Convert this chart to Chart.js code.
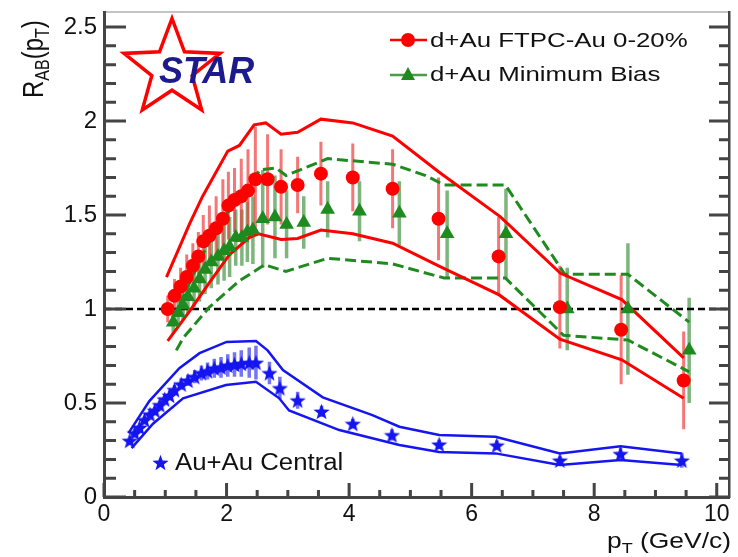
<!DOCTYPE html>
<html>
<head>
<meta charset="utf-8">
<script src="https://cdn.jsdelivr.net/npm/chart.js@4.4.1/dist/chart.umd.min.js"></script>
<style>
  html, body { margin: 0; padding: 0; background: #fff; }
</style>
</head>
<body>
<canvas id="rab" width="738" height="557"></canvas>
<script>
// d+Au FTPC-Au 0-20%
const ftpcPt  = [1.04, 1.15, 1.25, 1.35, 1.45, 1.54, 1.62, 1.72, 1.83, 1.94, 2.03, 2.13, 2.24, 2.35, 2.47, 2.67, 2.89, 3.16, 3.54, 4.06, 4.71, 5.46, 6.44, 7.44, 8.44, 9.46];
const ftpcR   = [1.00, 1.07, 1.12, 1.17, 1.23, 1.28, 1.36, 1.39, 1.43, 1.48, 1.55, 1.58, 1.60, 1.63, 1.69, 1.69, 1.65, 1.66, 1.72, 1.70, 1.64, 1.48, 1.28, 1.01, 0.89, 0.62];
const ftpcErr = [0.07, 0.09, 0.10, 0.12, 0.12, 0.13, 0.14, 0.16, 0.17, 0.21, 0.18, 0.17, 0.20, 0.22, 0.28, 0.24, 0.20, 0.15, 0.17, 0.18, 0.21, 0.22, 0.21, 0.22, 0.29, 0.26];
const ftpcHiPt = [1.02, 1.40, 1.61, 2.02, 2.21, 2.45, 2.64, 2.89, 3.16, 3.54, 4.06, 4.71, 5.46, 6.47, 7.45, 8.45, 9.46];
const ftpcHi   = [1.17, 1.455, 1.60, 1.84, 1.87, 1.98, 1.99, 1.93, 1.94, 2.01, 1.99, 1.92, 1.73, 1.49, 1.19, 1.05, 0.74];
const ftpcLoPt = [1.04, 1.40, 1.72, 2.05, 2.37, 2.52, 2.89, 3.16, 3.54, 4.06, 4.71, 5.46, 6.45, 7.44, 8.45, 9.46];
const ftpcLo   = [0.83, 0.99, 1.14, 1.29, 1.38, 1.40, 1.37, 1.375, 1.42, 1.40, 1.35, 1.23, 1.075, 0.84, 0.73, 0.525];

// d+Au minimum bias
const mbPt  = [1.13, 1.21, 1.29, 1.37, 1.47, 1.56, 1.65, 1.75, 1.86, 1.96, 2.05, 2.15, 2.25, 2.34, 2.43, 2.59, 2.79, 2.98, 3.26, 3.65, 4.17, 4.82, 5.60, 6.56, 7.56, 8.55, 9.55];
const mbR   = [0.93, 0.98, 1.02, 1.065, 1.11, 1.16, 1.21, 1.25, 1.28, 1.31, 1.33, 1.38, 1.38, 1.41, 1.42, 1.48, 1.49, 1.45, 1.46, 1.53, 1.52, 1.51, 1.40, 1.40, 1.00, 1.00, 0.78];
const mbErr = [0.06, 0.07, 0.08, 0.09, 0.10, 0.12, 0.13, 0.14, 0.15, 0.16, 0.16, 0.15, 0.15, 0.16, 0.18, 0.26, 0.22, 0.18, 0.14, 0.15, 0.16, 0.17, 0.23, 0.24, 0.22, 0.35, 0.28];
const mbHiPt = [1.13, 1.40, 1.67, 2.05, 2.37, 2.54, 2.81, 2.97, 3.65, 4.71, 5.25, 5.55, 6.55, 7.52, 8.55, 9.55];
const mbHi   = [0.95, 1.14, 1.33, 1.53, 1.65, 1.74, 1.75, 1.71, 1.80, 1.77, 1.71, 1.66, 1.66, 1.185, 1.185, 0.93];
const mbLoPt = [1.18, 1.29, 1.72, 2.21, 2.62, 2.97, 3.65, 4.71, 5.55, 6.55, 7.50, 8.55, 9.55];
const mbLo   = [0.78, 0.845, 1.01, 1.15, 1.235, 1.20, 1.27, 1.24, 1.165, 1.165, 0.86, 0.835, 0.666];

// Au+Au central
const aaPt  = [0.42, 0.50, 0.58, 0.66, 0.75, 0.83, 0.91, 0.99, 1.07, 1.15, 1.26, 1.37, 1.48, 1.59, 1.69, 1.80, 1.91, 2.02, 2.13, 2.24, 2.37, 2.48, 2.70, 2.87, 3.16, 3.55, 4.06, 4.70, 5.47, 6.41, 7.44, 8.43, 9.43];
const aaR   = [0.30, 0.34, 0.37, 0.41, 0.44, 0.46, 0.49, 0.52, 0.54, 0.57, 0.60, 0.62, 0.64, 0.66, 0.67, 0.685, 0.69, 0.70, 0.705, 0.71, 0.715, 0.715, 0.66, 0.58, 0.515, 0.455, 0.39, 0.33, 0.28, 0.275, 0.195, 0.23, 0.195];
const aaErr = [0.01, 0.01, 0.01, 0.015, 0.015, 0.02, 0.02, 0.02, 0.025, 0.025, 0.03, 0.03, 0.035, 0.04, 0.045, 0.05, 0.055, 0.06, 0.065, 0.07, 0.08, 0.09, 0.06, 0.06, 0.045, 0.03, 0.025, 0.03, 0.025, 0.025, 0.02, 0.03, 0.04];
const aaHiPt = [0.40, 0.74, 1.23, 1.56, 2.00, 2.48, 2.67, 2.92, 3.57, 4.38, 4.82, 5.47, 6.39, 7.44, 8.43, 9.43];
const aaHi   = [0.34, 0.51, 0.685, 0.765, 0.825, 0.83, 0.78, 0.675, 0.53, 0.436, 0.374, 0.33, 0.32, 0.232, 0.27, 0.232];
const aaLoPt = [0.45, 0.80, 1.29, 1.99, 2.48, 2.86, 3.02, 3.84, 4.82, 5.47, 6.39, 7.44, 8.43, 9.43];
const aaLo   = [0.26, 0.39, 0.525, 0.596, 0.613, 0.525, 0.46, 0.356, 0.277, 0.24, 0.232, 0.17, 0.197, 0.17];

// reference line R = 1
const unityPt = [0, 10.2];
const unityR  = [1, 1];

const X_MAX = 10.2, Y_MAX = 2.58;
const X_STEP = 2, X_MINOR = 0.5, Y_STEP = 0.5, Y_MINOR = 0.1;

const RED = '#ff0000', GREEN = '#1f8a1f', BLUE = '#1515f0', AXIS = '#444444';
const FONT = "'Liberation Sans', Arial, Helvetica, sans-serif";
Chart.defaults.font.family = FONT;

function pts(xs, ys) {
  return xs.map((x, i) => ({ x: x, y: ys[i] }));
}

function starShape(g, cx, cy, R) {
  g.beginPath();
  for (let i = 0; i < 10; i++) {
    const a = -Math.PI / 2 + i * Math.PI / 5;
    const rr = i % 2 ? R * 0.42 : R;
    g.lineTo(cx + rr * Math.cos(a), cy + rr * Math.sin(a));
  }
  g.closePath();
}

function starImage(size, color) {
  const c = document.createElement('canvas');
  c.width = size; c.height = size;
  const g = c.getContext('2d');
  g.fillStyle = color;
  starShape(g, size / 2, size / 2 + 0.8, size / 2);
  g.fill();
  return c;
}
const starImg = starImage(17, BLUE);

function errBars(chart, xs, ys, es, color, w) {
  const sx = chart.scales.x, sy = chart.scales.y, ctx = chart.ctx;
  ctx.save();
  ctx.strokeStyle = color;
  ctx.lineWidth = w;
  ctx.beginPath();
  xs.forEach((x, i) => {
    const px = sx.getPixelForValue(x);
    ctx.moveTo(px, sy.getPixelForValue(ys[i] - es[i]));
    ctx.lineTo(px, sy.getPixelForValue(ys[i] + es[i]));
  });
  ctx.stroke();
  ctx.restore();
}

function wideText(ctx, txt, x, y, k) {
  ctx.save();
  ctx.translate(x, y);
  ctx.scale(k, 1);
  ctx.fillText(txt, 0, 0);
  const w = ctx.measureText(txt).width * k;
  ctx.restore();
  return w;
}

// inward ticks of the ROOT frame, placed through the scales' own tick lists
function innerTicks(chart) {
  const ctx = chart.ctx;
  const sx = chart.scales.x, sy = chart.scales.y;
  const ym = chart.scales.yMinor, xm = chart.scales.xMinor;
  const L = sx.left, R = sx.right, B = sy.bottom;
  ctx.save();
  ctx.strokeStyle = AXIS;
  ctx.lineWidth = 3;
  ctx.lineCap = 'butt';
  ctx.beginPath();
  ym.ticks.forEach(t => {
    const py = sy.getPixelForValue(t.value);
    const major = Math.abs(t.value / Y_STEP - Math.round(t.value / Y_STEP)) < 1e-6;
    const len = major ? 22 : 12;
    ctx.moveTo(L, py); ctx.lineTo(L + len, py);
    ctx.moveTo(R, py); ctx.lineTo(R - len + 2, py);
  });
  xm.ticks.forEach(t => {
    const px = sx.getPixelForValue(t.value);
    const major = Math.abs(t.value / X_STEP - Math.round(t.value / X_STEP)) < 1e-6;
    const len = major ? 14 : 7;
    ctx.moveTo(px, B); ctx.lineTo(px, B - len);
  });
  ctx.stroke();
  ctx.restore();
}

const decor = {
  id: 'decor',
  beforeDatasetsDraw(chart) {
    errBars(chart, aaPt, aaR, aaErr, 'rgba(70,70,240,0.75)', 3.5);
    errBars(chart, mbPt, mbR, mbErr, 'rgba(70,150,70,0.7)', 3.5);
    errBars(chart, ftpcPt, ftpcR, ftpcErr, 'rgba(240,60,60,0.7)', 3);
  },
  afterDraw(chart) {
    const ctx = chart.ctx;
    ctx.save();

    // axis titles
    ctx.fillStyle = '#111';
    ctx.textBaseline = 'alphabetic';
    ctx.textAlign = 'left';
    ctx.save();
    ctx.translate(43, 98);
    ctx.scale(1.23, 1);
    ctx.rotate(-Math.PI / 2);
    let cx = 0;
    ctx.font = '24px ' + FONT; ctx.fillText('R', cx, 0); cx += ctx.measureText('R').width;
    ctx.font = '16px ' + FONT; ctx.fillText('AB', cx, 5); cx += ctx.measureText('AB').width;
    ctx.font = '24px ' + FONT; ctx.fillText('(p', cx, 0); cx += ctx.measureText('(p').width;
    ctx.font = '16px ' + FONT; ctx.fillText('T', cx, 5); cx += ctx.measureText('T').width;
    ctx.font = '24px ' + FONT; ctx.fillText(')', cx, 0);
    ctx.restore();
    let tx = 607;
    ctx.font = '22px ' + FONT; tx += wideText(ctx, 'p', tx, 548, 1.2);
    ctx.font = '15px ' + FONT; tx += wideText(ctx, 'T', tx, 553, 1.2);
    ctx.font = '22px ' + FONT; wideText(ctx, ' (GeV/c)', tx, 548, 1.2);

    // legends
    ctx.lineWidth = 2.5;
    ctx.strokeStyle = RED;
    ctx.beginPath(); ctx.moveTo(390, 40); ctx.lineTo(427, 40); ctx.stroke();
    ctx.fillStyle = RED;
    ctx.beginPath(); ctx.arc(408, 40, 7, 0, Math.PI * 2); ctx.fill();
    ctx.strokeStyle = '#4a9a4a';
    ctx.beginPath(); ctx.moveTo(390, 75); ctx.lineTo(427, 75); ctx.stroke();
    ctx.fillStyle = GREEN;
    ctx.beginPath(); ctx.moveTo(408, 67); ctx.lineTo(415, 80); ctx.lineTo(401, 80); ctx.closePath(); ctx.fill();
    ctx.drawImage(starImg, 152, 454);

    ctx.fillStyle = '#111';
    ctx.font = '21px ' + FONT;
    wideText(ctx, 'd+Au FTPC-Au 0-20%', 430, 47, 1.23);
    wideText(ctx, 'd+Au Minimum Bias', 430, 81, 1.23);
    ctx.font = '23px ' + FONT;
    wideText(ctx, 'Au+Au Central', 175, 470, 1.12);

    // STAR logo
    ctx.strokeStyle = RED; ctx.lineWidth = 3.5; ctx.lineJoin = 'miter';
    starShape(ctx, 172, 69, 50.5);
    ctx.stroke();
    ctx.fillStyle = '#1c1a8c';
    ctx.font = 'italic bold 36px ' + FONT;
    ctx.fillText('STAR', 159, 83);
    ctx.restore();

    innerTicks(chart);
  }
};

// hidden helper axes: they only provide the minor tick lists and the right / top frame lines
function helperAxis(axis, position, step, max, border) {
  return {
    type: 'linear', axis: axis, position: position, min: 0, max: max, weight: -1,
    afterFit(s) {
      if (axis === 'x') s.height = 0; else s.width = 0;
      s.paddingTop = s.paddingBottom = s.paddingLeft = s.paddingRight = 0;
    },
    grid: { display: false },
    border: border || { display: false },
    ticks: { display: false, stepSize: step, includeBounds: false, maxTicksLimit: 100, autoSkip: false }
  };
}

new Chart(document.getElementById('rab'), {
  type: 'scatter',
  data: {
    datasets: [
      { data: pts(ftpcPt, ftpcR), pointStyle: 'circle', pointRadius: 7, backgroundColor: RED, borderWidth: 0 },
      { data: pts(mbPt, mbR), pointStyle: 'triangle', pointRadius: 8.5, backgroundColor: GREEN, borderWidth: 0 },
      { data: pts(aaPt, aaR), pointStyle: starImg, pointRadius: 8 },
      { data: pts(ftpcHiPt, ftpcHi), showLine: true, pointRadius: 0, borderColor: RED, borderWidth: 3 },
      { data: pts(ftpcLoPt, ftpcLo), showLine: true, pointRadius: 0, borderColor: RED, borderWidth: 3 },
      { data: pts(mbHiPt, mbHi), showLine: true, pointRadius: 0, borderColor: GREEN, borderWidth: 3, borderDash: [11, 5] },
      { data: pts(mbLoPt, mbLo), showLine: true, pointRadius: 0, borderColor: GREEN, borderWidth: 3, borderDash: [11, 5] },
      { data: pts(aaHiPt, aaHi), showLine: true, pointRadius: 0, borderColor: BLUE, borderWidth: 2.5 },
      { data: pts(aaLoPt, aaLo), showLine: true, pointRadius: 0, borderColor: BLUE, borderWidth: 2.5 },
      { data: pts(unityPt, unityR), showLine: true, pointRadius: 0, borderColor: '#000', borderWidth: 2.5, borderDash: [7, 4] }
    ]
  },
  options: {
    responsive: false,
    animation: false,
    layout: { padding: { left: 0, right: 8, top: 12, bottom: 0 } },
    plugins: { legend: { display: false }, tooltip: { enabled: false } },
    scales: {
      x: {
        type: 'linear', position: 'bottom', min: 0, max: X_MAX,
        afterFit(s) { s.height = 60; s.paddingLeft = 0; s.paddingRight = 0; },
        grid: { display: false, drawTicks: false },
        border: { display: true, color: AXIS, width: 3 },
        ticks: {
          stepSize: X_STEP, includeBounds: false, padding: 4, color: '#111',
          font: { size: 23 }, maxRotation: 0, autoSkip: false,
          callback: v => String(v)
        }
      },
      xMinor: helperAxis('x', 'bottom', X_MINOR, X_MAX),
      xTop: helperAxis('x', 'top', X_STEP, X_MAX, { display: true, color: '#c4c4c4', width: 2 }),
      y: {
        type: 'linear', position: 'left', min: 0, max: Y_MAX,
        afterFit(s) { s.width = 104; s.paddingTop = 0; s.paddingBottom = 0; },
        grid: { display: false, drawTicks: false },
        border: { display: true, color: AXIS, width: 3 },
        ticks: {
          stepSize: Y_STEP, includeBounds: false, padding: 7, color: '#111',
          font: { size: 24 }, autoSkip: false,
          callback: v => String(+v.toFixed(1))
        }
      },
      yMinor: helperAxis('y', 'left', Y_MINOR, Y_MAX),
      yRight: helperAxis('y', 'right', Y_STEP, Y_MAX, { display: true, color: AXIS, width: 2.5 })
    }
  },
  plugins: [decor]
});
</script>
</body>
</html>
